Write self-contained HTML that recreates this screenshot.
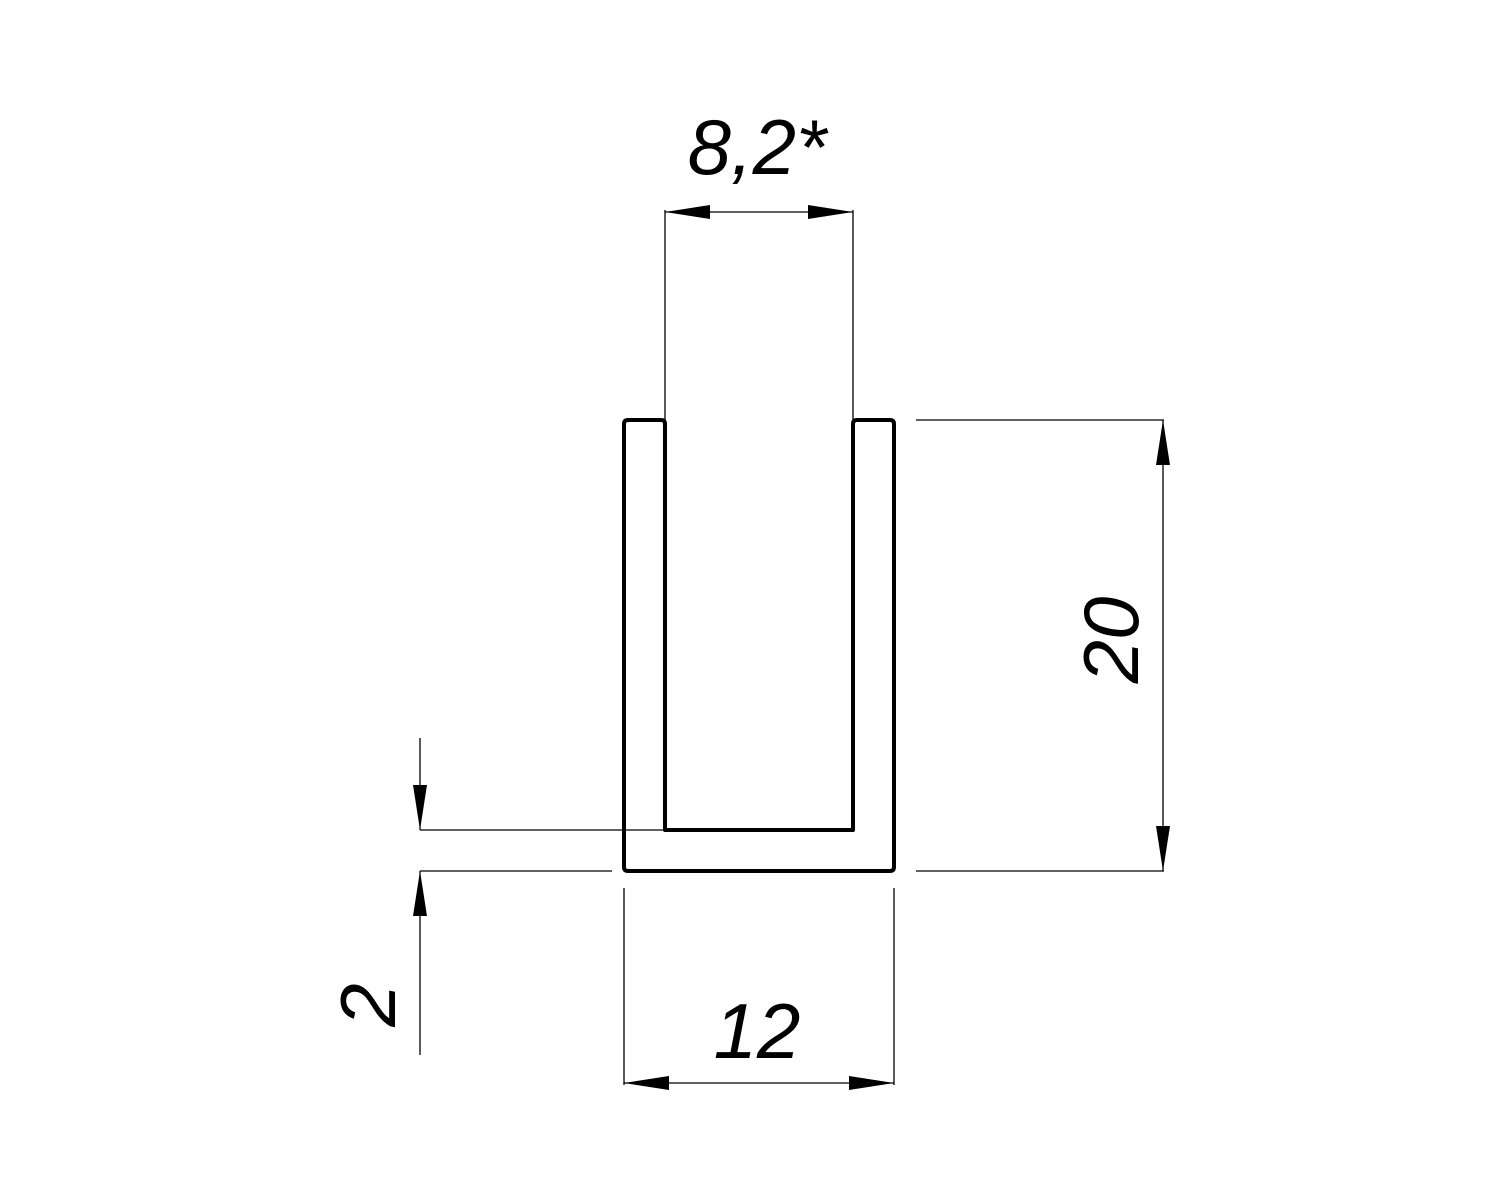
<!DOCTYPE html>
<html><head><meta charset="utf-8"><style>
html,body{margin:0;padding:0;background:#fff;}
svg{display:block;}
text{font-family:"Liberation Sans",sans-serif;font-style:italic;fill:#000;}
</style></head><body>
<svg width="1500" height="1200" viewBox="0 0 1500 1200" xmlns="http://www.w3.org/2000/svg">
<rect width="1500" height="1200" fill="#fff"/>
<!-- profile -->
<path d="M665,424 L665,830 L853,830 L853,424 Q853,420 857,420 L890,420 Q894,420 894,424 L894,867 Q894,871 890,871 L628,871 Q624,871 624,867 L624,424 Q624,420 628,420 L661,420 Q665,420 665,424 Z" fill="none" stroke="#000" stroke-width="4" stroke-linejoin="round"/>
<g stroke="#000" stroke-width="1.3" fill="none">
<!-- 8,2 -->
<line x1="665" y1="210" x2="665" y2="420"/>
<line x1="853" y1="210" x2="853" y2="420"/>
<line x1="665" y1="212" x2="853" y2="212"/>
<!-- 20 -->
<line x1="916" y1="420" x2="1164" y2="420"/>
<line x1="916" y1="871" x2="1164" y2="871"/>
<line x1="1163" y1="420" x2="1163" y2="871"/>
<!-- 12 -->
<line x1="624" y1="888" x2="624" y2="1085"/>
<line x1="894" y1="888" x2="894" y2="1085"/>
<line x1="624" y1="1083" x2="894" y2="1083"/>
<!-- 2 -->
<line x1="420" y1="830" x2="665" y2="830"/>
<line x1="420" y1="871" x2="612" y2="871"/>
<line x1="420" y1="738" x2="420" y2="830"/>
<line x1="420" y1="871" x2="420" y2="1055"/>
</g>
<g fill="#000">
<polygon points="665,212 710,205 710,219"/>
<polygon points="853,212 808,205 808,219"/>
<polygon points="1163,420 1156,465 1170,465"/>
<polygon points="1163,871 1156,826 1170,826"/>
<polygon points="624,1083 669,1076 669,1090"/>
<polygon points="894,1083 849,1076 849,1090"/>
<polygon points="420,830 413,785 427,785"/>
<polygon points="420,871 413,916 427,916"/>
</g>
<text x="757" y="174" font-size="78" text-anchor="middle">8,2*</text>
<text x="757" y="1058" font-size="78" text-anchor="middle">12</text>
<text transform="translate(1138,640) rotate(-90)" font-size="78" text-anchor="middle">20</text>
<text transform="translate(395,1005) rotate(-90)" font-size="78" text-anchor="middle">2</text>
</svg>
</body></html>
